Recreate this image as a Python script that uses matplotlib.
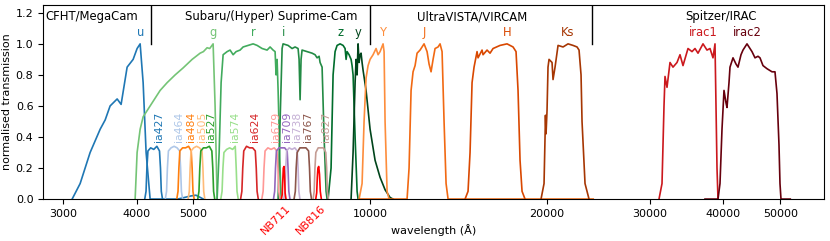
import numpy as np
import matplotlib
matplotlib.use("Agg")
import matplotlib.pyplot as plt
from matplotlib.ticker import NullLocator

# wavelength in Angstrom, normalised transmission
## CFHT/MegaCam
u_wl = [3107, 3206, 3334, 3468, 3537, 3606, 3707, 3765, 3855, 3947, 4009, 4057, 4105, 4153, 4219,
        4700, 4950, 5050, 5200]
u_tr = [0.0, 0.1, 0.3, 0.45, 0.51, 0.6, 0.645, 0.61, 0.85, 0.9, 0.97, 1.0, 0.75, 0.3, 0.0,
        0.0, 0.02, 0.025, 0.0]

## Subaru/(Hyper) Suprime-Cam broad bands
g_wl = [3978, 4009, 4057, 4105, 4219, 4388, 4510, 4654, 4802, 4975, 5133, 5200, 5276, 5330, 5402, 5444, 5487]
g_tr = [0.0, 0.3, 0.45, 0.53, 0.6, 0.7, 0.75, 0.8, 0.845, 0.9, 0.94, 0.95, 0.975, 0.97, 1.0, 0.6, 0.0]
r_wl = [5487, 5531, 5574, 5618, 5707, 5774, 5843, 5912, 6005, 6077, 6197, 6320, 6420, 6547, 6676,
        6755, 6835, 6889, 6916, 6943, 6971, 7025, 7053]
r_tr = [0.0, 0.3, 0.75, 0.93, 0.95, 0.96, 0.93, 0.95, 0.96, 0.98, 0.99, 1.0, 0.99, 0.97, 0.96,
        0.98, 0.96, 0.95, 0.8, 0.9, 0.7, 0.2, 0.0]
i_wl = [6971, 7025, 7081, 7108, 7249, 7364, 7451, 7539, 7569, 7599, 7628, 7658, 7810, 7965, 8059,
        8123, 8187, 8219, 8284, 8349, 8415, 8448]
i_tr = [0.0, 0.5, 0.97, 1.0, 0.99, 0.97, 0.98, 0.97, 0.9, 0.64, 0.9, 0.96, 0.95, 0.94, 0.93,
        0.91, 0.92, 0.88, 0.85, 0.4, 0.05, 0.0]
z_wl = [8481, 8581, 8649, 8717, 8786, 8890, 8995, 9066, 9102, 9137, 9209, 9282, 9318, 9355, 9429, 9503, 9540]
z_tr = [0.0, 0.2, 0.8, 0.95, 0.99, 1.0, 0.99, 0.97, 0.9, 0.95, 0.93, 0.9, 0.86, 0.8, 0.4, 0.05, 0.0]
y_wl = [9282, 9355, 9429, 9466, 9503, 9540, 9578, 9615, 9653, 9691, 9729, 9844, 10000, 10198, 10400,
        10606, 10816, 10944]
y_tr = [0.0, 0.3, 0.75, 0.9, 0.8, 1.0, 0.88, 0.93, 0.94, 0.88, 0.83, 0.7, 0.45, 0.25, 0.14,
        0.06, 0.01, 0.0]

## Subaru intermediate bands
ia427_wl = [4131, 4152, 4166, 4183, 4228, 4280, 4332, 4377, 4394, 4408, 4429]
ia427_tr = [0.0, 0.05, 0.2, 0.31, 0.33, 0.32, 0.34, 0.31, 0.2, 0.05, 0.0]
ia464_wl = [4478, 4500, 4515, 4533, 4580, 4635, 4690, 4737, 4755, 4770, 4792]
ia464_tr = [0.0, 0.05, 0.2, 0.31, 0.33, 0.34, 0.33, 0.31, 0.2, 0.05, 0.0]
ia484_wl = [4684, 4707, 4723, 4741, 4792, 4849, 4906, 4957, 4975, 4991, 5014]
ia484_tr = [0.0, 0.05, 0.2, 0.31, 0.33, 0.33, 0.34, 0.31, 0.2, 0.05, 0.0]
ia505_wl = [4897, 4920, 4936, 4954, 5005, 5063, 5121, 5172, 5190, 5206, 5229]
ia505_tr = [0.0, 0.05, 0.2, 0.31, 0.33, 0.34, 0.33, 0.31, 0.2, 0.05, 0.0]
ia527_wl = [5086, 5110, 5127, 5147, 5200, 5261, 5322, 5375, 5395, 5412, 5436]
ia527_tr = [0.0, 0.05, 0.2, 0.31, 0.33, 0.33, 0.34, 0.31, 0.2, 0.05, 0.0]
ia574_wl = [5567, 5595, 5614, 5636, 5696, 5764, 5832, 5892, 5914, 5933, 5961]
ia574_tr = [0.0, 0.05, 0.2, 0.30, 0.32, 0.33, 0.32, 0.34, 0.2, 0.05, 0.0]
ia624_wl = [6017, 6047, 6068, 6092, 6158, 6233, 6308, 6374, 6398, 6419, 6449]
ia624_tr = [0.0, 0.05, 0.2, 0.31, 0.34, 0.33, 0.33, 0.31, 0.2, 0.05, 0.0]
ia679_wl = [6539, 6573, 6596, 6623, 6697, 6781, 6865, 6939, 6966, 6989, 7023]
ia679_tr = [0.0, 0.05, 0.2, 0.31, 0.33, 0.32, 0.33, 0.31, 0.2, 0.05, 0.0]
ia709_wl = [6846, 6878, 6900, 6925, 6995, 7074, 7153, 7223, 7248, 7270, 7302]
ia709_tr = [0.0, 0.05, 0.2, 0.31, 0.33, 0.33, 0.33, 0.31, 0.2, 0.05, 0.0]
ia738_wl = [7128, 7160, 7183, 7209, 7280, 7361, 7442, 7513, 7539, 7562, 7594]
ia738_tr = [0.0, 0.05, 0.2, 0.31, 0.33, 0.32, 0.33, 0.31, 0.2, 0.05, 0.0]
ia767_wl = [7421, 7458, 7483, 7512, 7593, 7684, 7775, 7856, 7885, 7910, 7947]
ia767_tr = [0.0, 0.05, 0.2, 0.30, 0.33, 0.33, 0.33, 0.31, 0.2, 0.05, 0.0]
ia827_wl = [7997, 8031, 8055, 8083, 8158, 8244, 8330, 8405, 8433, 8457, 8491]
ia827_tr = [0.0, 0.05, 0.2, 0.30, 0.33, 0.33, 0.33, 0.30, 0.2, 0.05, 0.0]

## Subaru narrow bands
nb711_wl = [7060, 7085, 7100, 7115, 7135, 7150, 7165, 7190]
nb711_tr = [0.0, 0.03, 0.12, 0.2, 0.21, 0.15, 0.04, 0.0]
nb816_wl = [8080, 8110, 8130, 8150, 8175, 8200, 8225, 8260]
nb816_tr = [0.0, 0.04, 0.14, 0.2, 0.21, 0.16, 0.05, 0.0]

## UltraVISTA/VIRCAM
Y_wl = [9578, 9691, 9767, 9844, 9922, 10000, 10118, 10238, 10319, 10400, 10523, 10565, 10606, 10690, 10774]
Y_tr = [0.0, 0.1, 0.5, 0.78, 0.86, 0.9, 0.93, 0.97, 0.93, 0.95, 1.0, 0.95, 0.5, 0.05, 0.0]
J_wl = [9600, 11562, 11653, 11745, 11837, 11931, 12025, 12167, 12359, 12506, 12604, 12703, 12804,
        12904, 13057, 13160, 13264, 13368, 13474, 13580, 24000]
J_tr = [0.0, 0.0, 0.2, 0.7, 0.82, 0.86, 0.94, 0.96, 1.0, 0.95, 0.87, 0.82, 0.9,
        0.97, 0.98, 1.0, 0.95, 0.5, 0.1, 0.0, 0.0]
H_wl = [14516, 14687, 14803, 14920, 15037, 15215, 15275, 15517, 15577, 15824, 16011, 16201, 16652,
        17115, 17523, 17730, 17870, 18011, 18153, 18367]
H_tr = [0.0, 0.05, 0.3, 0.75, 0.85, 0.95, 0.91, 0.96, 0.93, 0.96, 0.94, 0.97, 0.99,
        1.0, 0.98, 0.95, 0.7, 0.25, 0.05, 0.0]
Ks_wl = [19557, 19789, 19867, 19900, 19945, 20023, 20100, 20181, 20420, 20500, 20662, 20907, 21321,
         21743, 22174, 22524, 22702, 22881, 22970, 23241, 23609]
Ks_tr = [0.0, 0.1, 0.4, 0.54, 0.42, 0.57, 0.85, 0.9, 0.88, 0.77, 0.85, 0.99, 0.98,
         1.0, 0.99, 0.98, 0.96, 0.8, 0.5, 0.1, 0.0]

## Spitzer/IRAC
irac1_wl = [31069, 31437, 31684, 31809, 32060, 32439, 32823, 33342, 33737, 34136, 34812, 35363, 35782,
            36205, 36923, 37506, 37950, 38399, 38702, 38854, 39007, 39160]
irac1_tr = [0.0, 0.1, 0.6, 0.79, 0.72, 0.88, 0.85, 0.88, 0.93, 0.86, 0.97, 0.95, 0.97,
            0.94, 1.0, 0.96, 0.97, 0.91, 1.0, 0.6, 0.2, 0.0]
irac2_wl = [37213, 39160, 39468, 39779, 40093, 40409, 40567, 40887, 41048, 41534, 42025, 42356, 42858,
            43195, 43878, 44397, 44747, 45277, 45813, 46173, 46720, 47459, 48399, 48972, 49358,
            49746, 49942, 50138, 52000]
irac2_tr = [0.0, 0.0, 0.1, 0.45, 0.7, 0.62, 0.59, 0.75, 0.85, 0.91, 0.87, 0.85, 0.93,
            0.96, 1.0, 0.97, 0.95, 0.91, 0.92, 0.91, 0.86, 0.84, 0.82, 0.82, 0.68,
            0.35, 0.1, 0.0, 0.0]

instruments = ["CFHT/MegaCam", "Subaru/(Hyper) Suprime-Cam", "UltraVISTA/VIRCAM", "Spitzer/IRAC"]
instrument_pos = [3361, 6782, 14920, 39630]
boundaries = [4236, 10000, 23880]

xticks = [3000, 4000, 5000, 10000, 20000, 30000, 40000, 50000]
yticks = [0.0, 0.2, 0.4, 0.6, 0.8, 1.0, 1.2]

broad = [("u", u_wl, u_tr, "#1f77b4"),
         ("g", g_wl, g_tr, "#74c476"),
         ("r", r_wl, r_tr, "#41ab5d"),
         ("i", i_wl, i_tr, "#238b45"),
         ("z", z_wl, z_tr, "#006d2c"),
         ("y", y_wl, y_tr, "#00441b")]
medium = [("ia427", ia427_wl, ia427_tr, "#1f77b4"),
          ("ia464", ia464_wl, ia464_tr, "#aec7e8"),
          ("ia484", ia484_wl, ia484_tr, "#ff7f0e"),
          ("ia505", ia505_wl, ia505_tr, "#ffbb78"),
          ("ia527", ia527_wl, ia527_tr, "#2ca02c"),
          ("ia574", ia574_wl, ia574_tr, "#98df8a"),
          ("ia624", ia624_wl, ia624_tr, "#d62728"),
          ("ia679", ia679_wl, ia679_tr, "#ff9896"),
          ("ia709", ia709_wl, ia709_tr, "#9467bd"),
          ("ia738", ia738_wl, ia738_tr, "#c5b0d5"),
          ("ia767", ia767_wl, ia767_tr, "#8c564b"),
          ("ia827", ia827_wl, ia827_tr, "#c49c94")]
narrow = [("NB711", nb711_wl, nb711_tr, "red"),
          ("NB816", nb816_wl, nb816_tr, "red")]
infrared = [("Y", Y_wl, Y_tr, "#fd8d3c"),
            ("J", J_wl, J_tr, "#f16913"),
            ("H", H_wl, H_tr, "#d94801"),
            ("Ks", Ks_wl, Ks_tr, "#a63603"),
            ("irac1", irac1_wl, irac1_tr, "#cb181d"),
            ("irac2", irac2_wl, irac2_tr, "#67000d")]

fig, ax = plt.subplots(figsize=(8.3, 2.41), dpi=100)
fig.subplots_adjust(left=0.052, right=0.993, bottom=0.174, top=0.979)

lw = 1.2
for name, wl, tr, c in broad:
    ax.plot(wl, tr, color=c, lw=lw)
    k = int(np.argmax(tr))
    ax.text(wl[k], 1.053, name, color=c, ha="center", va="baseline", fontsize=8.3)

## medium bands, label above the band centre
for name, wl, tr, c in medium:
    ax.plot(wl, tr, color=c, lw=lw)
    ax.text(wl[5], 0.368, name, color=c, ha="left", va="bottom", rotation=90, fontsize=7.8)

for name, wl, tr, c in narrow:
    ax.plot(wl, tr, color=c, lw=lw)
    k = int(np.argmax(tr))
    ax.annotate(name, xy=(wl[k], 0), xytext=(6, -3), textcoords="offset points",
                color=c, ha="right", va="top", rotation=45, fontsize=8, annotation_clip=False)

for name, wl, tr, c in infrared:
    ax.plot(wl, tr, color=c, lw=lw)
    k = int(np.argmax(tr))
    ax.text(wl[k], 1.053, name, color=c, ha="center", va="baseline", fontsize=8.3)

## instrument boxes
for b in boundaries:
    ax.axvline(b, ymin=1.0 / 1.25, ymax=1.0, color="black", lw=1.0)
for name, p in zip(instruments, instrument_pos):
    ax.text(p, 1.152, name, ha="center", va="baseline", fontsize=8.4)

ax.set_xscale("log")
ax.set_xlim(2773, 59400)
ax.set_ylim(0, 1.25)
ax.set_xticks(xticks, labels=[str(t) for t in xticks])
ax.xaxis.set_minor_locator(NullLocator())
ax.set_yticks(yticks)
ax.tick_params(labelsize=8)
ax.set_xlabel("wavelength (\u00c5)", fontsize=8)
ax.set_ylabel("normalised transmission", fontsize=8, labelpad=3)

fig.savefig("out.png", dpi=100)
